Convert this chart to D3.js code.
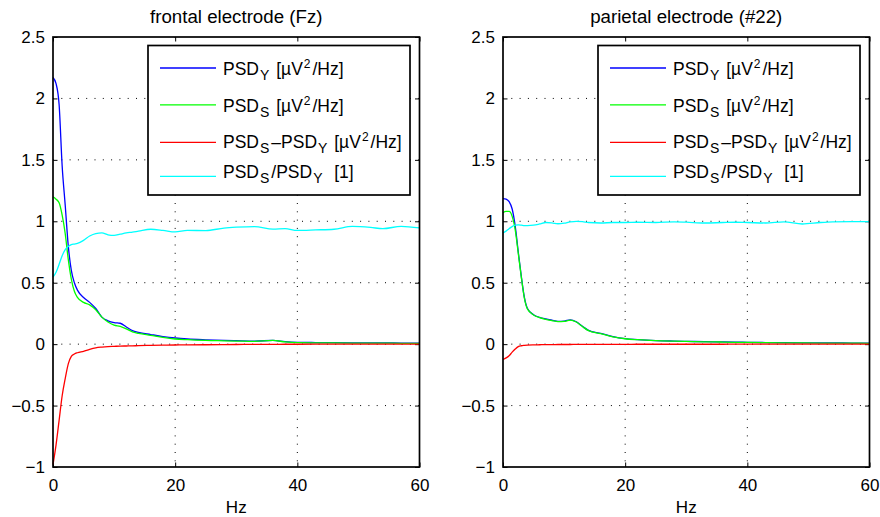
<!DOCTYPE html>
<html>
<head>
<meta charset="utf-8">
<script src="https://cdn.jsdelivr.net/npm/d3@7"></script>
<style>
  body { margin: 0; background: #fff; }
  svg { display: block; font-family: "Liberation Sans", Arial, Helvetica, sans-serif; }
  .grid line { stroke: #000; stroke-width: 1; stroke-dasharray: 1,7.3; }
  .axis text { font-size: 17px; fill: #000; }
  .axis line { stroke: #000; stroke-width: 1; }
  .axis path { display: none; }
</style>
</head>
<body>
<svg width="880" height="517"></svg>
<script>
// frequency samples (Hz)
var freqs = [0,0.5,1,1.5,2,2.5,3,3.5,4,5,6,7,8,9,10,11,12,13,14,16,18,20,22,25,28,30,33,36,38,40,43,46,49,52,54,57,60];

// frontal electrode (Fz)
var fzPsdY  = [2.17,2.12,1.95,1.45,1.13,0.8,0.6,0.5,0.44,0.38,0.34,0.29,0.22,0.19,0.175,0.17,0.14,0.11,0.095,0.078,0.062,0.05,0.042,0.035,0.03,0.028,0.025,0.03,0.02,0.015,0.013,0.012,0.011,0.01,0.01,0.009,0.008];
var fzPsdS  = [1.2,1.18,1.15,1.05,0.9,0.69,0.53,0.43,0.38,0.34,0.32,0.28,0.22,0.18,0.155,0.145,0.125,0.1,0.088,0.072,0.055,0.042,0.036,0.03,0.027,0.025,0.022,0.03,0.018,0.012,0.011,0.01,0.009,0.008,0.008,0.007,0.007];
var fzDiff  = [-0.98,-0.82,-0.62,-0.42,-0.28,-0.16,-0.1,-0.08,-0.07,-0.058,-0.042,-0.03,-0.024,-0.02,-0.018,-0.016,-0.015,-0.014,-0.012,-0.01,-0.008,-0.007,-0.006,-0.005,-0.004,-0.003,-0.002,-0.002,-0.001,-0.001,0,0,0,0,0,0,0];
var fzRatio = [0.546,0.585,0.65,0.72,0.77,0.795,0.81,0.815,0.82,0.845,0.88,0.9,0.905,0.89,0.885,0.895,0.905,0.912,0.92,0.935,0.926,0.913,0.926,0.924,0.945,0.952,0.957,0.937,0.94,0.926,0.93,0.935,0.958,0.95,0.94,0.959,0.946];

// parietal electrode (#22)
var p22PsdY  = [1.185,1.18,1.16,1.1,0.96,0.75,0.55,0.38,0.29,0.24,0.218,0.205,0.195,0.186,0.188,0.198,0.182,0.145,0.112,0.088,0.062,0.045,0.037,0.029,0.025,0.023,0.02,0.018,0.016,0.015,0.013,0.012,0.011,0.01,0.01,0.009,0.008];
var p22PsdS  = [1.07,1.08,1.08,1.04,0.93,0.74,0.545,0.375,0.287,0.238,0.215,0.202,0.192,0.183,0.185,0.195,0.18,0.143,0.11,0.086,0.06,0.044,0.036,0.028,0.024,0.022,0.019,0.017,0.015,0.014,0.012,0.011,0.01,0.009,0.009,0.008,0.007];
var p22Diff  = [-0.125,-0.112,-0.095,-0.065,-0.04,-0.02,-0.013,-0.01,-0.008,-0.006,-0.005,-0.004,-0.004,-0.003,-0.003,-0.003,-0.002,-0.002,-0.002,-0.002,-0.002,-0.002,-0.001,-0.001,-0.001,-0.001,-0.001,-0.001,0,0,0,0,0,0,0,0,0];
var p22Ratio = [0.905,0.92,0.94,0.957,0.968,0.97,0.968,0.965,0.965,0.968,0.978,0.99,0.987,0.98,0.985,0.995,1.0,0.997,0.99,0.986,0.99,0.99,0.992,0.99,0.996,0.993,0.986,0.99,0.992,0.99,0.986,0.995,0.978,0.99,0.995,0.997,0.997];

var xTicks = [0, 20, 40, 60];
var yTicks = [-1, -0.5, 0, 0.5, 1, 1.5, 2, 2.5];
var yTickLabels = ["\u22121", "\u22120.5", "0", "0.5", "1", "1.5", "2", "2.5"];
var titles = ["frontal electrode (Fz)", "parietal electrode (#22)"];
var xLabel = "Hz";
var colors = ["#0000ff", "#00ff00", "#ff0000", "#00ffff"];
// legend rows: [text, kind]; kind n = normal, b = subscript, p = superscript
var legendRows = [
  [["PSD","n"],["Y","b"],[" [\u00b5V","n"],["2","p"],["/Hz]","n"]],
  [["PSD","n"],["S","b"],[" [\u00b5V","n"],["2","p"],["/Hz]","n"]],
  [["PSD","n"],["S","b"],["\u2013PSD","n"],["Y","b"],[" [\u00b5V","n"],["2","p"],["/Hz]","n"]],
  [["PSD","n"],["S","b"],["/PSD","n"],["Y","b"],["\u00a0 [1]","n"]]
];

var panels = [
  {left: 53, series: [fzPsdY, fzPsdS, fzDiff, fzRatio]},
  {left: 503, series: [p22PsdY, p22PsdS, p22Diff, p22Ratio]}
];

var svg = d3.select("svg"),
    top0 = 37,
    width = 366.5,
    height = 430;

panels.forEach(function(p, pi) {
  var g = svg.append("g").attr("transform", "translate(" + p.left + "," + top0 + ")");

  var x = d3.scaleLinear().domain([0, 60]).range([0, width]);
  var y = d3.scaleLinear().domain([-1, 2.5]).range([height, 0]);

  // dotted grid
  var grid = g.append("g").attr("class", "grid");
  grid.selectAll(".gx")
      .data(xTicks.slice(1, -1))
    .enter().append("line")
      .attr("x1", function(d) { return x(d); })
      .attr("x2", function(d) { return x(d); })
      .attr("y1", 0)
      .attr("y2", height);
  grid.selectAll(".gy")
      .data(yTicks.slice(1, -1))
    .enter().append("line")
      .attr("x1", 0)
      .attr("x2", width)
      .attr("y1", function(d) { return y(d); })
      .attr("y2", function(d) { return y(d); });

  // axes with inward ticks
  g.append("g")
      .attr("class", "axis")
      .attr("transform", "translate(0," + height + ")")
      .call(d3.axisBottom(x).tickValues(xTicks).tickSizeInner(-4.5).tickSizeOuter(0).tickPadding(12));
  g.append("g")
      .attr("class", "axis")
      .call(d3.axisTop(x).tickValues(xTicks).tickSizeInner(-4.5).tickSizeOuter(0).tickFormat(""));
  g.append("g")
      .attr("class", "axis")
      .call(d3.axisLeft(y).tickValues(yTicks).tickSizeInner(-4.5).tickSizeOuter(0).tickPadding(8)
        .tickFormat(function(d, i) { return yTickLabels[i]; }));
  g.append("g")
      .attr("class", "axis")
      .attr("transform", "translate(" + width + ",0)")
      .call(d3.axisRight(y).tickValues(yTicks).tickSizeInner(-4.5).tickSizeOuter(0).tickFormat(""));

  // data lines
  var line = d3.line()
      .x(function(d, i) { return x(freqs[i]); })
      .y(function(d) { return y(d); })
      .curve(d3.curveMonotoneX);

  p.series.forEach(function(s, si) {
    g.append("path")
        .datum(s)
        .attr("fill", "none")
        .attr("stroke", colors[si])
        .attr("stroke-width", 1.3)
        .attr("d", line);
  });

  // box
  g.append("rect")
      .attr("width", width)
      .attr("height", height)
      .attr("fill", "none")
      .attr("stroke", "#000")
      .attr("stroke-width", 1.7);

  // title and x label
  g.append("text")
      .attr("x", width / 2)
      .attr("y", 23 - top0)
      .attr("text-anchor", "middle")
      .style("font-size", "18.7px")
      .text(titles[pi]);
  g.append("text")
      .attr("x", width / 2)
      .attr("y", 513 - top0)
      .attr("text-anchor", "middle")
      .style("font-size", "17px")
      .text(xLabel);

  // legend
  var lg = g.append("g").attr("transform", "translate(" + (width - 9.5 - 262) + "," + (45.5 - top0) + ")");
  lg.append("rect")
      .attr("width", 262)
      .attr("height", 149.5)
      .attr("fill", "#fff")
      .attr("stroke", "#000")
      .attr("stroke-width", 1.7);

  var lineY = [22.5, 59.3, 96.8, 130.9];
  var baseY = [29, 66, 102.7, 132.7];

  legendRows.forEach(function(row, ri) {
    lg.append("line")
        .attr("x1", 12).attr("x2", 68)
        .attr("y1", lineY[ri]).attr("y2", lineY[ri])
        .attr("stroke", colors[ri])
        .attr("stroke-width", 1.3);
    var t = lg.append("text")
        .attr("x", 75)
        .attr("y", baseY[ri])
        .style("font-size", "17.5px");
    var shift = 0, gap = 0;
    row.forEach(function(part) {
      var kind = part[1];
      var target = kind === "b" ? 5 : (kind === "p" ? -7 : 0);
      t.append("tspan")
          .attr("dy", target - shift)
          .attr("dx", kind === "n" ? gap : 1)
          .style("font-size", kind === "n" ? "17.5px" : (kind === "b" ? "14px" : "12px"))
          .text(part[0]);
      gap = kind === "n" ? 0 : 2;
      shift = target;
    });
  });
});
</script>
</body>
</html>
